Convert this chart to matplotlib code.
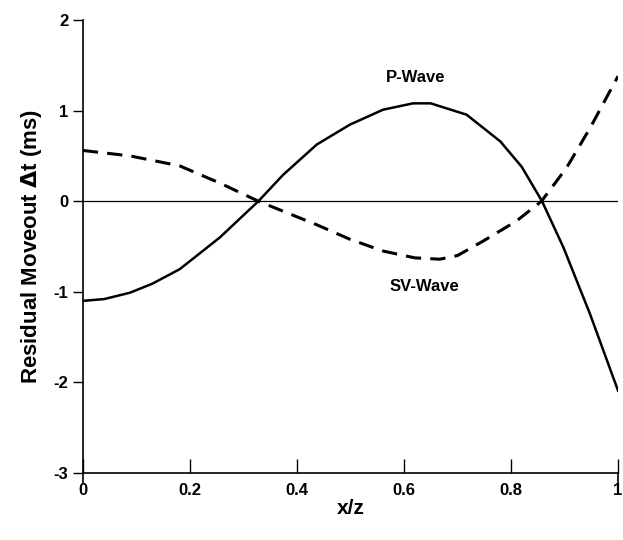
"""
Residual moveout of P and SV waves versus offset ratio x/z
"""
import matplotlib
matplotlib.use("agg")  # noqa: E402
import matplotlib.pyplot as plt

# P-wave residual moveout (ms)
p_x = [0.0, 0.04, 0.088, 0.13, 0.181, 0.256, 0.328, 0.374, 0.437, 0.499,
       0.561, 0.617, 0.65, 0.717, 0.78, 0.82, 0.858, 0.898, 0.948, 1.0]
p_y = [-1.10, -1.08, -1.01, -0.91, -0.75, -0.40, 0.0, 0.29, 0.625, 0.845,
       1.01, 1.08, 1.08, 0.955, 0.66, 0.38, 0.0, -0.51, -1.25, -2.09]

# SV-wave residual moveout (ms)
sv_x = [0.0, 0.088, 0.181, 0.256, 0.328, 0.374, 0.437, 0.499, 0.561, 0.62,
        0.667, 0.70, 0.748, 0.81, 0.857, 0.904, 0.948, 1.0]
sv_y = [0.56, 0.50, 0.39, 0.20, 0.0, -0.11, -0.26, -0.42, -0.55, -0.625,
        -0.64, -0.60, -0.44, -0.22, 0.0, 0.37, 0.81, 1.38]

x_ticks = [0, 0.2, 0.4, 0.6, 0.8, 1]
x_tick_labels = ["0", "0.2", "0.4", "0.6", "0.8", "1"]
y_ticks = [-3, -2, -1, 0, 1, 2]

plt.rcParams['font.family'] = ['Liberation Sans', 'DejaVu Sans']
plt.rcParams['font.weight'] = 'bold'
plt.rcParams['axes.unicode_minus'] = False

fig = plt.figure(figsize=(6.23, 5.40), dpi=100)
ax = fig.add_axes([0.133, 0.124, 0.859, 0.839])

ax.axhline(0, color='black', linewidth=0.9)
ax.plot(p_x, p_y, color='black', linewidth=1.8)
ax.plot(sv_x, sv_y, color='black', linewidth=2.2, linestyle=(0, (5, 3)))

ax.text(0.622, 1.37, "P-Wave", ha='center', va='center', fontsize=12,
        fontweight='bold')
ax.text(0.639, -0.94, "SV-Wave", ha='center', va='center', fontsize=12,
        fontweight='bold')

ax.set_xlim(0, 1)
ax.set_ylim(-3, 2)
ax.set_xticks(x_ticks)
ax.set_xticklabels(x_tick_labels)
ax.set_yticks(y_ticks)
ax.xaxis.set_minor_locator(matplotlib.ticker.FixedLocator([0, 1]))
ax.xaxis.remove_overlapping_locs = False

for side in ['top', 'right']:
    ax.spines[side].set_visible(False)
for side in ['left', 'bottom']:
    ax.spines[side].set_linewidth(1.2)

ax.tick_params(axis='x', which='major', direction='in', length=10, width=1.0,
               labelsize=12, pad=7)
ax.tick_params(axis='x', which='minor', direction='out', length=8, width=1.2)
ax.tick_params(axis='y', direction='out', length=7, width=1.0, labelsize=12)

ax.set_xlabel("x/z", fontsize=15, fontweight='bold', labelpad=1)
ax.set_ylabel("Residual Moveout $\\Delta$t (ms)", fontsize=16,
              fontweight='bold', labelpad=7)

fig.savefig("out.png", dpi=100)
